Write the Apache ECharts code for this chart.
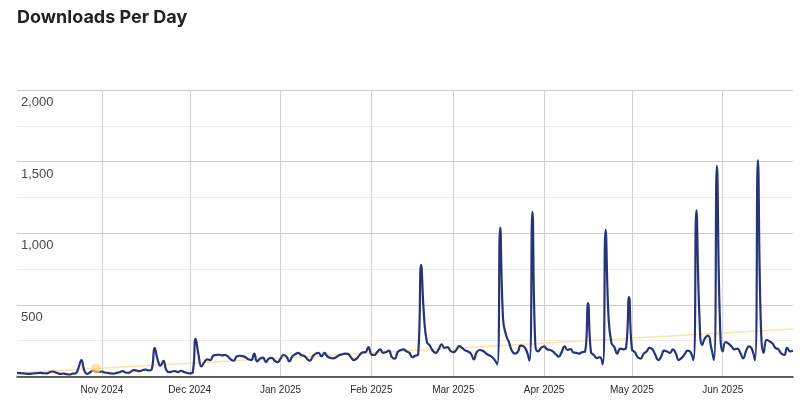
<!DOCTYPE html>
<html>
<head>
<meta charset="utf-8">
<script src="https://cdn.jsdelivr.net/npm/echarts@6/dist/echarts.min.js"></script>
<style>
html,body{margin:0;padding:0;background:#fff;}
#chart{width:800px;height:404px;}
</style>
</head>
<body>
<div id="chart"></div>
<script>
// ---- data ----
const startDate = '2024-10-03';
const downloads = [
  25,24,22,20,18,20,22,24,25,23,22,28,35,30,22,18,20,16,14,20,22,60,115,40,18,30,42,35,32,
  35,28,25,22,20,25,30,38,28,25,35,45,40,38,45,48,42,50,200,120,75,110,45,30,35,38,30,40,32,25,
  22,30,262,150,70,100,120,115,145,150,152,148,150,140,120,110,140,145,142,135,120,115,160,105,125,132,100,125,130,110,100,
  125,150,140,105,140,155,165,150,145,125,110,140,160,165,140,165,140,130,127,135,148,155,160,158,135,115,125,150,168,170,205,
  155,150,170,190,165,170,180,135,125,170,185,190,175,165,135,145,155,780,420,240,215,180,165,190,225,200,205,180,
  170,185,212,200,182,175,160,120,170,185,180,165,150,140,120,85,1040,400,290,240,180,160,170,215,210,180,110,1150,220,175,200,
  210,190,185,175,155,138,170,210,185,192,168,165,160,170,175,513,170,150,128,135,85,1023,420,235,205,160,195,190,200,555,
  190,170,135,125,160,175,200,190,150,115,140,180,175,165,190,160,115,130,155,180,170,115,1160,450,220,270,285,210,115,1470,420,
  175,240,230,210,190,195,165,127,180,210,190,115,1510,380,165,255,245,230,200,190,160,150,200,175,180
];
const trendEnds = [25, 332];
const markerPoint = ['2024-10-30', 55];
const monthNames = ['Jan','Feb','Mar','Apr','May','Jun','Jul','Aug','Sep','Oct','Nov','Dec'];
const yMax = 2000;

// ---- categories ----
const dates = [];
{
  const d0 = new Date(startDate + 'T00:00:00Z');
  for (let i = 0; i < downloads.length; i++) {
    const d = new Date(d0.getTime() + i * 86400000);
    dates.push(d.toISOString().slice(0, 10));
  }
}
const trendData = dates.map((d, i) => i === 0 ? trendEnds[0] : (i === dates.length - 1 ? trendEnds[1] : null));
const isMonthStart = (idx, val) => val.slice(8, 10) === '01';

const chart = echarts.init(document.getElementById('chart'), null, {renderer: 'canvas'});
chart.setOption({
  animation: false,
  backgroundColor: '#fff',
  title: {
    text: 'Downloads Per Day',
    left: 17, top: 9, padding: 0,
    textStyle: {fontFamily: 'Inter', fontWeight: 700, fontSize: 18, color: '#222'}
  },
  grid: {left: 17, right: 7, top: 90, bottom: 27.5, containLabel: false},
  xAxis: {
    type: 'category',
    data: dates,
    boundaryGap: false,
    axisLine: {show: true, lineStyle: {color: '#333', width: 1.5}},
    axisTick: {show: false},
    axisLabel: {
      interval: isMonthStart,
      margin: 9,
      fontFamily: 'Liberation Sans', fontSize: 10, color: '#2a2a2a',
      formatter: v => monthNames[parseInt(v.slice(5, 7), 10) - 1] + ' ' + v.slice(0, 4)
    },
    splitLine: {show: true, interval: isMonthStart, lineStyle: {color: '#d3d3d3', width: 1}}
  },
  yAxis: {
    type: 'value',
    min: 0, max: yMax, interval: 250,
    axisLine: {show: false},
    axisTick: {show: false},
    axisLabel: {
      inside: true, margin: 4,
      verticalAlign: 'top', padding: [6, 0, 0, 0],
      fontFamily: 'Liberation Sans', fontSize: 13, color: '#4a4a4a',
      formatter: v => (v > 0 && v % 500 === 0) ? v.toLocaleString('en-US') : ''
    },
    splitLine: {lineStyle: {color: ['#cccccc', '#ebebeb'], width: 1}}
  },
  series: [
    {
      name: 'Trend', type: 'line', data: trendData, connectNulls: true,
      showSymbol: false, silent: true,
      lineStyle: {color: '#fde3a4', width: 1.5}, z: 2
    },
    {
      name: 'Downloads', type: 'line', data: downloads,
      smooth: 0.5, showSymbol: false,
      lineStyle: {color: '#26347a', width: 2.2}, z: 3
    },
    {
      name: 'Marker', type: 'scatter', data: [markerPoint],
      symbolSize: 10, itemStyle: {color: 'rgba(253,214,120,0.85)'}, z: 4
    }
  ]
});
</script>
</body>
</html>
